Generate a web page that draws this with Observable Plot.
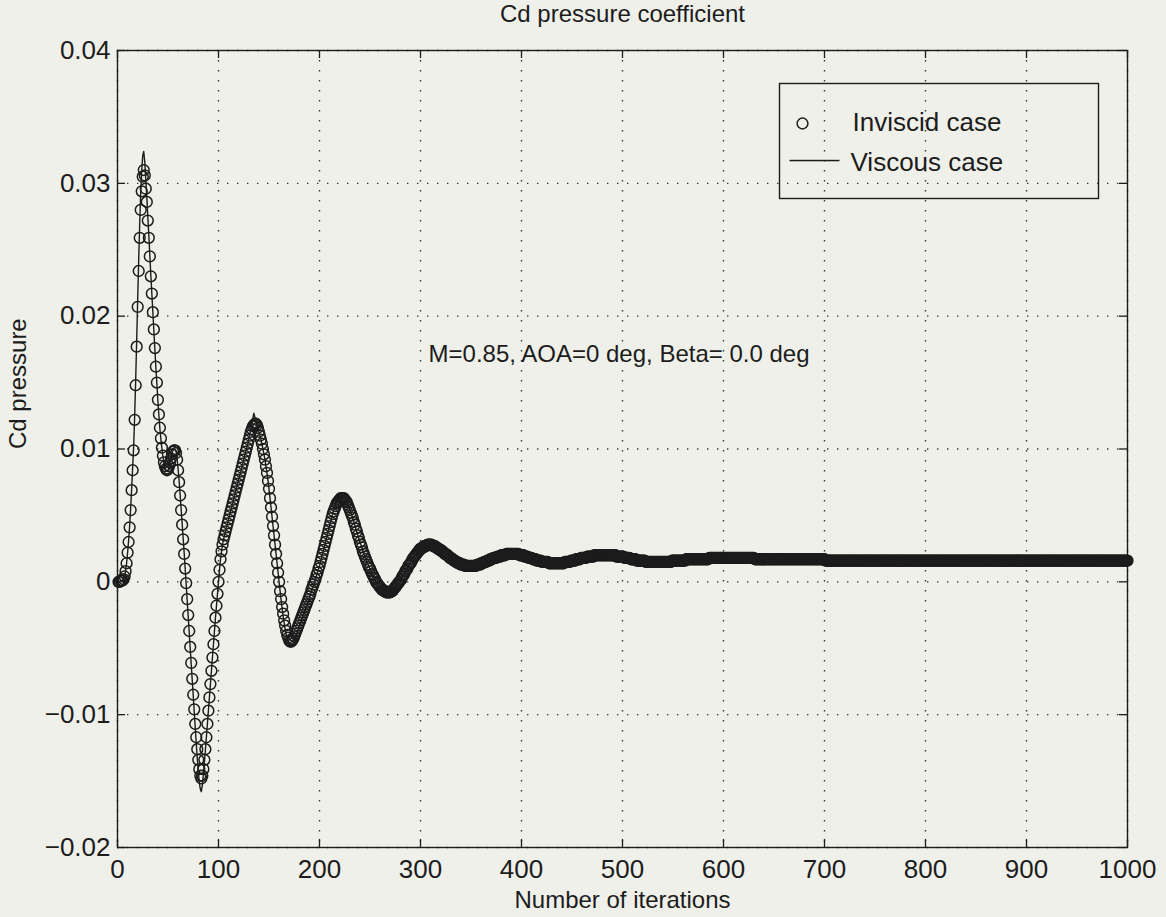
<!DOCTYPE html>
<html><head><meta charset="utf-8">
<script src="https://cdn.jsdelivr.net/npm/d3@7"></script>
<script src="https://cdn.jsdelivr.net/npm/@observablehq/plot@0.6"></script>
<style>
html,body{margin:0;padding:0;background:#f0f0ea;}
#chart{width:1166px;height:917px;}
</style></head><body><div id="chart"></div>
<script>
// Inviscid case: Cd pressure at iterations 1..1000 (one value per iteration)
const inviscid = [
0,0,.0001,.0001,.0001,.0002,.0004,.0008,.0014,.0022,
.0030,.0041,.0054,.0069,.0084,.0099,.0122,.0148,.0177,.0207,
.0234,.0259,.0280,.0294,.0305,.0310,.0306,.0296,.0286,.0272,
.0259,.0245,.0230,.0217,.0203,.0190,.0176,.0162,.0150,.0137,
.0126,.0116,.0108,.0101,.0095,.0090,.0087,.0085,.0084,.0085,
.0087,.0090,.0093,.0096,.0098,.0099,.0099,.0097,.0092,.0084,
.0075,.0065,.0054,.0043,.0032,.0021,.0010,-.0001,-.0013,-.0025,
-.0037,-.0049,-.0061,-.0073,-.0085,-.0096,-.0107,-.0117,-.0126,-.0134,
-.0141,-.0146,-.0148,-.0146,-.0141,-.0134,-.0126,-.0117,-.0107,-.0097,
-.0087,-.0077,-.0067,-.0057,-.0047,-.0037,-.0027,-.0018,-.0009,0,
.0009,.0017,.0023,.0028,.0032,.0035,.0038,.0041,.0044,.0047,
.0050,.0053,.0056,.0059,.0062,.0065,.0068,.0071,.0074,.0077,
.0080,.0083,.0086,.0089,.0092,.0095,.0098,.0101,.0104,.0107,
.0110,.0113,.0115,.0117,.0118,.0119,.0119,.0118,.0116,.0113,
.0110,.0107,.0104,.0100,.0096,.0092,.0087,.0082,.0076,.0070,
.0063,.0056,.0049,.0042,.0035,.0028,.0021,.0014,.0007,0,
-.0007,-.0013,-.0019,-.0024,-.0029,-.0033,-.0037,-.0040,-.0042,-.0044,
-.0045,-.0045,-.0044,-.0043,-.0041,-.0039,-.0037,-.0035,-.0033,-.0031,
-.0029,-.0027,-.0025,-.0023,-.0021,-.0019,-.0017,-.0015,-.0013,-.0011,
-.0009,-.0006,-.0004,-.0002,0,.0002,.0005,.0007,.0010,.0012,
.0015,.0018,.0021,.0024,.0027,.0030,.0033,.0036,.0039,.0042,
.0045,.0048,.0051,.0053,.0055,.0057,.0059,.0060,.0061,.0062,
.0063,.0063,.0063,.0063,.0062,.0061,.0060,.0058,.0056,.0054,
.0052,.0050,.0048,.0045,.0043,.0040,.0038,.0035,.0033,.0030,
.0028,.0026,.0023,.0021,.0019,.0017,.0015,.0013,.0011,.0010,
.0008,.0006,.0005,.0003,.0002,0,-.0001,-.0002,-.0003,-.0004,
-.0005,-.0006,-.0006,-.0007,-.0007,-.0008,-.0008,-.0008,-.0008,-.0008,
-.0007,-.0007,-.0006,-.0005,-.0004,-.0003,-.0002,-.0001,0,.0001,
.0002,.0004,.0005,.0006,.0008,.0009,.0010,.0012,.0013,.0014,
.0015,.0017,.0018,.0019,.0020,.0021,.0022,.0023,.0024,.0025,
.0025,.0026,.0026,.0027,.0027,.0027,.0028,.0028,.0028,.0028,
.0028,.0027,.0027,.0027,.0026,.0026,.0025,.0025,.0024,.0024,
.0023,.0023,.0022,.0021,.0021,.0020,.0020,.0019,.0018,.0018,
.0017,.0017,.0016,.0016,.0015,.0015,.0014,.0014,.0014,.0013,
.0013,.0013,.0013,.0012,.0012,.0012,.0012,.0012,.0012,.0012,
.0012,.0012,.0012,.0012,.0012,.0013,.0013,.0013,.0013,.0014,
.0014,.0014,.0015,.0015,.0015,.0016,.0016,.0016,.0017,.0017,
.0017,.0018,.0018,.0018,.0018,.0019,.0019,.0019,.0019,.0020,
.0020,.0020,.0020,.0020,.0021,.0021,.0021,.0021,.0021,.0021,
.0021,.0021,.0021,.0021,.0021,.0021,.0021,.0020,.0020,.0020,
.0020,.0020,.0019,.0019,.0019,.0019,.0018,.0018,.0018,.0018,
.0017,.0017,.0017,.0017,.0016,.0016,.0016,.0016,.0016,.0015,
.0015,.0015,.0015,.0015,.0015,.0015,.0014,.0014,.0014,.0014,
.0014,.0014,.0014,.0014,.0014,.0014,.0014,.0014,.0014,.0014,
.0014,.0014,.0015,.0015,.0015,.0015,.0015,.0015,.0016,.0016,
.0016,.0016,.0016,.0017,.0017,.0017,.0017,.0017,.0018,.0018,
.0018,.0018,.0018,.0018,.0019,.0019,.0019,.0019,.0019,.0019,
.0019,.0020,.0020,.0020,.0020,.0020,.0020,.0020,.0020,.0020,
.0020,.0020,.0020,.0020,.0020,.0020,.0020,.0020,.0020,.0020,
.0020,.0020,.0020,.0019,.0019,.0019,.0019,.0019,.0019,.0019,
.0019,.0018,.0018,.0018,.0018,.0018,.0018,.0017,.0017,.0017,
.0017,.0017,.0017,.0016,.0016,.0016,.0016,.0016,.0016,.0016,
.0016,.0016,.0015,.0015,.0015,.0015,.0015,.0015,.0015,.0015,
.0015,.0015,.0015,.0015,.0015,.0015,.0015,.0015,.0015,.0015,
.0015,.0015,.0015,.0015,.0015,.0015,.0015,.0015,.0016,.0016,
.0016,.0016,.0016,.0016,.0016,.0016,.0016,.0016,.0016,.0016,
.0016,.0016,.0017,.0017,.0017,.0017,.0017,.0017,.0017,.0017,
.0017,.0017,.0017,.0017,.0017,.0017,.0017,.0017,.0017,.0017,
.0017,.0017,.0017,.0017,.0017,.0018,.0018,.0018,.0018,.0018,
.0018,.0018,.0018,.0018,.0018,.0018,.0018,.0018,.0018,.0018,
.0018,.0018,.0018,.0018,.0018,.0018,.0018,.0018,.0018,.0018,
.0018,.0018,.0018,.0018,.0018,.0018,.0018,.0018,.0018,.0018,
.0018,.0018,.0018,.0018,.0018,.0018,.0018,.0018,.0018,.0018,
.0017,.0017,.0017,.0017,.0017,.0017,.0017,.0017,.0017,.0017,
.0017,.0017,.0017,.0017,.0017,.0017,.0017,.0017,.0017,.0017,
.0017,.0017,.0017,.0017,.0017,.0017,.0017,.0017,.0017,.0017,
.0017,.0017,.0017,.0017,.0017,.0017,.0017,.0017,.0017,.0017,
.0017,.0017,.0017,.0017,.0017,.0017,.0017,.0017,.0017,.0017,
.0017,.0017,.0017,.0017,.0017,.0017,.0017,.0017,.0017,.0017,
.0017,.0017,.0017,.0017,.0017,.0017,.0017,.0017,.0017,.0017,
.0016,.0016,.0016,.0016,.0016,.0016,.0016,.0016,.0016,.0016,.0016,.0016,.0016,.0016,.0016,.0016,.0016,.0016,.0016,.0016,
.0016,.0016,.0016,.0016,.0016,.0016,.0016,.0016,.0016,.0016,.0016,.0016,.0016,.0016,.0016,.0016,.0016,.0016,.0016,.0016,
.0016,.0016,.0016,.0016,.0016,.0016,.0016,.0016,.0016,.0016,.0016,.0016,.0016,.0016,.0016,.0016,.0016,.0016,.0016,.0016,
.0016,.0016,.0016,.0016,.0016,.0016,.0016,.0016,.0016,.0016,.0016,.0016,.0016,.0016,.0016,.0016,.0016,.0016,.0016,.0016,
.0016,.0016,.0016,.0016,.0016,.0016,.0016,.0016,.0016,.0016,.0016,.0016,.0016,.0016,.0016,.0016,.0016,.0016,.0016,.0016,
.0016,.0016,.0016,.0016,.0016,.0016,.0016,.0016,.0016,.0016,.0016,.0016,.0016,.0016,.0016,.0016,.0016,.0016,.0016,.0016,
.0016,.0016,.0016,.0016,.0016,.0016,.0016,.0016,.0016,.0016,.0016,.0016,.0016,.0016,.0016,.0016,.0016,.0016,.0016,.0016,
.0016,.0016,.0016,.0016,.0016,.0016,.0016,.0016,.0016,.0016,.0016,.0016,.0016,.0016,.0016,.0016,.0016,.0016,.0016,.0016,
.0016,.0016,.0016,.0016,.0016,.0016,.0016,.0016,.0016,.0016,.0016,.0016,.0016,.0016,.0016,.0016,.0016,.0016,.0016,.0016,
.0016,.0016,.0016,.0016,.0016,.0016,.0016,.0016,.0016,.0016,.0016,.0016,.0016,.0016,.0016,.0016,.0016,.0016,.0016,.0016,
.0016,.0016,.0016,.0016,.0016,.0016,.0016,.0016,.0016,.0016,.0016,.0016,.0016,.0016,.0016,.0016,.0016,.0016,.0016,.0016,
.0016,.0016,.0016,.0016,.0016,.0016,.0016,.0016,.0016,.0016,.0016,.0016,.0016,.0016,.0016,.0016,.0016,.0016,.0016,.0016,
.0016,.0016,.0016,.0016,.0016,.0016,.0016,.0016,.0016,.0016,.0016,.0016,.0016,.0016,.0016,.0016,.0016,.0016,.0016,.0016,
.0016,.0016,.0016,.0016,.0016,.0016,.0016,.0016,.0016,.0016,.0016,.0016,.0016,.0016,.0016,.0016,.0016,.0016,.0016,.0016,
.0016,.0016,.0016,.0016,.0016,.0016,.0016,.0016,.0016,.0016,.0016,.0016,.0016,.0016,.0016,.0016,.0016,.0016,.0016,.0016
];

// Viscous case: iterations where the curve was read, and the values there
const viscousIter = [...d3.range(1, 141), ...d3.range(142, 301, 2), ...d3.range(310, 1001, 10)];
const viscous = [
0,0,.0001,.0001,.0001,.0002,.0004,.0008,.0014,.0022,
.0031,.0042,.0055,.0070,.0086,.0102,.0125,.0152,.0182,.0213,
.0243,.0270,.0293,.0310,.0321,.0324,.0316,.0303,.0290,.0275,
.0261,.0246,.0231,.0217,.0203,.0189,.0175,.0161,.0149,.0136,
.0125,.0115,.0107,.0100,.0094,.0089,.0086,.0084,.0083,.0084,
.0087,.0090,.0094,.0097,.0099,.0100,.0100,.0098,.0093,.0085,
.0076,.0066,.0055,.0044,.0033,.0022,.0010,-.0002,-.0014,-.0026,
-.0038,-.0050,-.0062,-.0074,-.0086,-.0098,-.0110,-.0122,-.0133,-.0143,
-.0151,-.0156,-.0158,-.0153,-.0145,-.0136,-.0127,-.0117,-.0107,-.0097,
-.0087,-.0077,-.0067,-.0057,-.0047,-.0037,-.0027,-.0018,-.0009,0,
.0009,.0017,.0023,.0028,.0032,.0035,.0038,.0041,.0044,.0047,
.0050,.0053,.0056,.0059,.0062,.0065,.0068,.0071,.0074,.0077,
.0080,.0083,.0086,.0089,.0092,.0095,.0098,.0101,.0104,.0108,
.0111,.0115,.0119,.0123,.0127,.0124,.0121,.0118,.0116,.0113,
// every 2 iterations, 142..300
.0107,.0100,.0092,.0082,.0070,.0056,.0042,.0028,.0014,0,
-.0014,-.0026,-.0036,-.0043,-.0047,-.0048,-.0046,-.0042,-.0038,-.0033,
-.0029,-.0024,-.0020,-.0016,-.0012,-.0007,-.0003,.0002,.0007,.0012,
.0018,.0024,.0030,.0036,.0042,.0048,.0054,.0058,.0062,.0065,
.0066,.0065,.0062,.0058,.0054,.0050,.0045,.0040,.0035,.0030,
.0026,.0021,.0017,.0013,.0010,.0006,.0003,0,-.0002,-.0004,
-.0006,-.0007,-.0008,-.0009,-.0008,-.0007,-.0005,-.0003,-.0001,.0001,
.0004,.0006,.0009,.0012,.0014,.0017,.0019,.0021,.0023,.0025,
// every 10 iterations, 310..1000
.0028,.0024,.0018,.0013,.0012,.0014,.0017,.0020,.0021,.0020,
.0018,.0015,.0014,.0014,.0016,.0018,.0019,.0020,.0020,.0019,
.0017,.0016,.0015,.0015,.0016,.0016,.0017,.0017,.0018,.0018,
.0018,.0018,.0018,.0017,.0017,.0017,.0017,.0017,.0017,.0017,
.0016,.0016,.0016,.0016,.0016,.0016,.0016,.0016,.0016,.0016,
.0016,.0016,.0016,.0016,.0016,.0016,.0016,.0016,.0016,.0016,
.0016,.0016,.0016,.0016,.0016,.0016,.0016,.0016,.0016,.0016
];

const xTicks = [0, 100, 200, 300, 400, 500, 600, 700, 800, 900, 1000];
const xTickLabels = ["0", "100", "200", "300", "400", "500", "600", "700", "800", "900", "1000"];
const yTicks = [-0.02, -0.01, 0, 0.01, 0.02, 0.03, 0.04];
const yTickLabels = ["\u22120.02", "\u22120.01", "0", "0.01", "0.02", "0.03", "0.04"];
const seriesNames = ["Inviscid case", "Viscous case"];
const titleText = "Cd pressure coefficient";
const xLabel = "Number of iterations";
const yLabel = "Cd pressure";
const noteText = "M=0.85, AOA=0 deg, Beta= 0.0 deg";
const noteAt = {x: 308, y: 0.0171};

const inv = inviscid.map((v, i) => ({it: i + 1, v})).filter(d => d.it <= 1000);
const n = Math.min(viscousIter.length, viscous.length);
const visc = viscousIter.slice(0, n).map((it, i) => ({it, v: viscous[i]}));

const ink = "#1c1c1c";
const grid = {stroke: "#333", strokeOpacity: 1, strokeWidth: 1.4, strokeDasharray: "1.4,8.6"};
const FS = 24, TFS = 26;
const FW = 1010, FH = 797; // frame size in px (width - margins)

const chart = Plot.plot({
  width: 1166, height: 917,
  marginTop: 50, marginBottom: 70, marginLeft: 117, marginRight: 39,
  style: {background: "#f0f0ea", fontFamily: "'Liberation Sans', Arial, Helvetica, sans-serif", fontSize: FS + "px", color: ink, overflow: "visible"},
  x: {domain: [0, 1000]},
  y: {domain: [-0.02, 0.04]},
  marks: [
    Plot.gridX(xTicks, grid),
    Plot.gridY(yTicks, grid),
    // inward ticks on all four sides
    Plot.ruleX(xTicks, {stroke: ink, strokeWidth: 1.3, insetTop: FH - 8}),
    Plot.ruleX(xTicks, {stroke: ink, strokeWidth: 1.3, insetBottom: FH - 8}),
    Plot.ruleY(yTicks, {stroke: ink, strokeWidth: 1.3, insetRight: FW - 8}),
    Plot.ruleY(yTicks, {stroke: ink, strokeWidth: 1.3, insetLeft: FW - 8}),
    Plot.axisX(xTicks, {tickSize: 0, tickPadding: 12, label: null, fontSize: TFS, tickFormat: d => xTickLabels[xTicks.indexOf(d)]}),
    Plot.axisY(yTicks, {tickSize: 0, tickPadding: 7, label: null, fontSize: TFS, tickFormat: d => yTickLabels[yTicks.indexOf(d)]}),
    Plot.frame({stroke: ink, strokeWidth: 1.4}),
    // data
    Plot.line(visc, {x: "it", y: "v", stroke: ink, strokeWidth: 1.4}),
    Plot.dot(inv, {x: "it", y: "v", r: 5.4, stroke: ink, strokeWidth: 1.5, fill: "none"}),
    // annotation
    Plot.text([noteText], {x: () => noteAt.x, y: () => noteAt.y, textAnchor: "start", fontSize: FS, fill: ink}),
    // titles
    Plot.text([titleText], {frameAnchor: "top", lineAnchor: "middle", dy: -36, fontSize: FS, fill: ink}),
    Plot.text([xLabel], {frameAnchor: "bottom", lineAnchor: "middle", dy: 53, fontSize: FS, fill: ink}),
    Plot.text([yLabel], {frameAnchor: "left", dx: -99, rotate: -90, fontSize: FS, fill: ink}),
    // legend
    Plot.frame({stroke: ink, strokeWidth: 1.4, insetLeft: 662, insetRight: 29, insetTop: 33, insetBottom: 649}),
    Plot.dot([seriesNames[0]], {frameAnchor: "top-left", dx: 685, dy: 73, r: 5.4, stroke: ink, strokeWidth: 1.5, fill: "none"}),
    Plot.frame({stroke: "none", fill: ink, insetLeft: 672, insetRight: 288, insetTop: 109.3, insetBottom: FH - 109.3 - 1.5}),
    Plot.text([seriesNames[0]], {frameAnchor: "top-left", lineAnchor: "middle", dx: 735, dy: 72, textAnchor: "start", fontSize: TFS, fill: ink}),
    Plot.text([seriesNames[1]], {frameAnchor: "top-left", lineAnchor: "middle", dx: 733, dy: 112, textAnchor: "start", fontSize: TFS, fill: ink})
  ]
});
document.getElementById("chart").appendChild(chart);
</script>
</body></html>
